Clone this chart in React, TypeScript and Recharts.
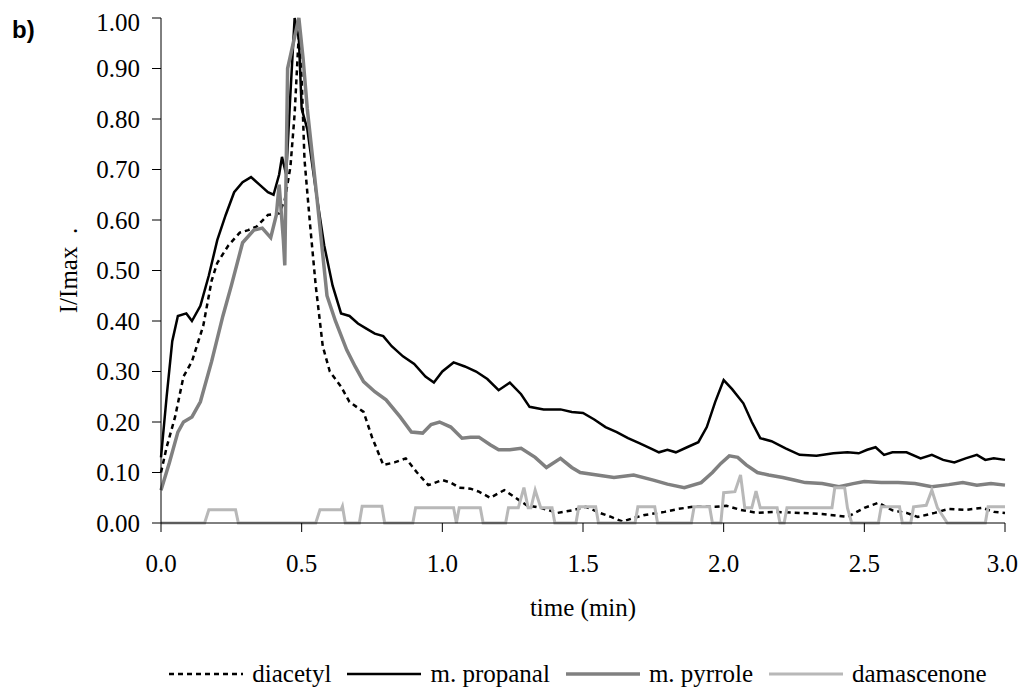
import { Customized, Legend, Line, LineChart, XAxis, YAxis } from 'recharts'

type Pt = [number, number]

const timeTicks = [0, 0.5, 1, 1.5, 2, 2.5, 3]
const intensityTicks = [0, 0.1, 0.2, 0.3, 0.4, 0.5, 0.6, 0.7, 0.8, 0.9, 1]

// [time (min), I/Imax]
const diacetyl: Pt[] = [
  [0, 0.1], [0.02, 0.15], [0.05, 0.21], [0.08, 0.29], [0.11, 0.32], [0.15, 0.39], [0.18, 0.48],
  [0.2, 0.515], [0.24, 0.55], [0.28, 0.575], [0.31, 0.58], [0.34, 0.587], [0.38, 0.61], [0.42, 0.613],
  [0.44, 0.64], [0.46, 0.705], [0.475, 0.81], [0.49, 0.97], [0.5, 0.88], [0.51, 0.72], [0.53, 0.59],
  [0.55, 0.47], [0.575, 0.35], [0.6, 0.3], [0.64, 0.27], [0.67, 0.24], [0.72, 0.22], [0.75, 0.17],
  [0.79, 0.115], [0.83, 0.12], [0.87, 0.128], [0.91, 0.1], [0.95, 0.075], [1.0, 0.085], [1.03, 0.08],
  [1.06, 0.07], [1.1, 0.068], [1.13, 0.062], [1.17, 0.05], [1.22, 0.065], [1.26, 0.05], [1.3, 0.035],
  [1.35, 0.03], [1.41, 0.02], [1.46, 0.025], [1.51, 0.032], [1.56, 0.02], [1.6, 0.012], [1.64, 0.003],
  [1.68, 0.01], [1.72, 0.016], [1.79, 0.022], [1.84, 0.028], [1.89, 0.032], [1.97, 0.032], [2.01, 0.034],
  [2.06, 0.026], [2.12, 0.02], [2.18, 0.022], [2.27, 0.02], [2.35, 0.018], [2.44, 0.012], [2.5, 0.03],
  [2.55, 0.04], [2.6, 0.025], [2.65, 0.02], [2.69, 0.012], [2.75, 0.02], [2.8, 0.028], [2.86, 0.026],
  [2.92, 0.03], [2.96, 0.022], [3.0, 0.02],
]

const propanal: Pt[] = [
  [0, 0.13], [0.02, 0.25], [0.04, 0.36], [0.06, 0.41], [0.09, 0.415], [0.11, 0.4], [0.14, 0.43],
  [0.17, 0.49], [0.2, 0.56], [0.23, 0.61], [0.26, 0.655], [0.29, 0.675], [0.32, 0.685], [0.35, 0.67],
  [0.38, 0.655], [0.4, 0.65], [0.42, 0.69], [0.43, 0.725], [0.445, 0.69], [0.46, 0.85], [0.475, 1.0],
  [0.49, 0.96], [0.5, 0.82], [0.52, 0.78], [0.55, 0.66], [0.58, 0.55], [0.61, 0.47], [0.64, 0.415],
  [0.67, 0.41], [0.7, 0.395], [0.73, 0.385], [0.76, 0.375], [0.79, 0.37], [0.82, 0.35], [0.86, 0.33],
  [0.9, 0.315], [0.94, 0.29], [0.97, 0.278], [1.0, 0.3], [1.04, 0.318], [1.08, 0.31], [1.12, 0.3],
  [1.16, 0.285], [1.2, 0.263], [1.24, 0.278], [1.28, 0.255], [1.31, 0.23], [1.36, 0.225], [1.42, 0.225],
  [1.46, 0.22], [1.5, 0.218], [1.54, 0.205], [1.58, 0.19], [1.62, 0.18], [1.66, 0.168], [1.7, 0.158],
  [1.74, 0.148], [1.77, 0.14], [1.8, 0.145], [1.83, 0.14], [1.87, 0.15], [1.91, 0.16], [1.94, 0.19],
  [1.97, 0.24], [2.0, 0.283], [2.03, 0.265], [2.07, 0.237], [2.1, 0.2], [2.13, 0.168], [2.17, 0.162],
  [2.22, 0.148], [2.27, 0.135], [2.33, 0.133], [2.39, 0.138], [2.44, 0.14], [2.48, 0.138], [2.51, 0.145],
  [2.54, 0.15], [2.57, 0.135], [2.6, 0.14], [2.65, 0.14], [2.7, 0.128], [2.74, 0.135], [2.78, 0.125],
  [2.82, 0.12], [2.86, 0.128], [2.9, 0.135], [2.93, 0.125], [2.96, 0.128], [3.0, 0.125],
]

const pyrrole: Pt[] = [
  [0, 0.065], [0.03, 0.12], [0.06, 0.18], [0.08, 0.2], [0.11, 0.21], [0.14, 0.24], [0.18, 0.32],
  [0.22, 0.41], [0.25, 0.47], [0.29, 0.555], [0.33, 0.58], [0.36, 0.584], [0.39, 0.565], [0.41, 0.61],
  [0.42, 0.67], [0.435, 0.56], [0.44, 0.51], [0.45, 0.9], [0.47, 0.95], [0.49, 1.0], [0.505, 0.92],
  [0.52, 0.82], [0.555, 0.64], [0.59, 0.45], [0.62, 0.4], [0.66, 0.343], [0.69, 0.31], [0.72, 0.28],
  [0.76, 0.26], [0.8, 0.244], [0.85, 0.21], [0.89, 0.18], [0.93, 0.178], [0.96, 0.195], [0.99, 0.2],
  [1.03, 0.19], [1.07, 0.168], [1.1, 0.17], [1.13, 0.17], [1.17, 0.155], [1.2, 0.145], [1.24, 0.145],
  [1.28, 0.148], [1.33, 0.13], [1.37, 0.11], [1.42, 0.128], [1.46, 0.11], [1.49, 0.1], [1.55, 0.095],
  [1.61, 0.09], [1.68, 0.095], [1.75, 0.085], [1.8, 0.077], [1.86, 0.07], [1.92, 0.08], [1.96, 0.1],
  [1.99, 0.118], [2.02, 0.133], [2.05, 0.13], [2.08, 0.115], [2.12, 0.1], [2.16, 0.095], [2.21, 0.09],
  [2.25, 0.085], [2.29, 0.08], [2.35, 0.078], [2.41, 0.072], [2.46, 0.078], [2.5, 0.082], [2.56, 0.08],
  [2.62, 0.08], [2.68, 0.078], [2.74, 0.072], [2.8, 0.076], [2.85, 0.08], [2.9, 0.075], [2.95, 0.078],
  [3.0, 0.075],
]

const damascenone: Pt[] = [
  [0, 0], [0.155, 0], [0.17, 0.026], [0.265, 0.026], [0.275, 0], [0.55, 0], [0.565, 0.026], [0.64, 0.026],
  [0.645, 0.033], [0.655, 0], [0.705, 0], [0.715, 0.033], [0.785, 0.033], [0.795, 0], [0.895, 0],
  [0.905, 0.03], [1.04, 0.03], [1.05, 0], [1.06, 0.03], [1.135, 0.03], [1.145, 0], [1.225, 0],
  [1.235, 0.03], [1.27, 0.03], [1.29, 0.07], [1.305, 0.03], [1.315, 0.03], [1.33, 0.065], [1.35, 0.03],
  [1.39, 0.03], [1.4, 0], [1.475, 0], [1.485, 0.032], [1.545, 0.032], [1.555, 0], [1.685, 0],
  [1.695, 0.032], [1.755, 0.032], [1.765, 0], [1.885, 0], [1.895, 0.032], [1.95, 0.032], [1.96, 0],
  [1.99, 0], [2.0, 0.06], [2.04, 0.062], [2.06, 0.095], [2.075, 0.03], [2.1, 0.03], [2.115, 0.063],
  [2.13, 0.03], [2.19, 0.03], [2.2, 0], [2.215, 0], [2.225, 0.03], [2.385, 0.03], [2.395, 0.07],
  [2.43, 0.07], [2.44, 0.03], [2.455, 0], [2.55, 0], [2.56, 0.032], [2.625, 0.032], [2.635, 0],
  [2.665, 0], [2.675, 0.032], [2.72, 0.035], [2.74, 0.065], [2.76, 0.03], [2.795, 0], [2.93, 0],
  [2.94, 0.032], [3.0, 0.032],
]

const toRows = (pts: Pt[]) => pts.map(([t, v]) => ({ t, v }))

const series = [
  { name: 'diacetyl', pts: diacetyl, stroke: '#000', width: 2.5, dash: '5 4' },
  { name: 'm. propanal', pts: propanal, stroke: '#000', width: 2.5, dash: undefined },
  { name: 'm. pyrrole', pts: pyrrole, stroke: '#808080', width: 3.5, dash: undefined },
  { name: 'damascenone', pts: damascenone, stroke: '#b8b8b8', width: 3, dash: undefined },
]

const FONT = 'Liberation Serif, Tinos, DejaVu Serif, serif'

function LegendBox() {
  return (
    <div style={{ display: 'flex', justifyContent: 'center', alignItems: 'center', fontFamily: FONT, fontSize: 25, color: '#000', height: 30 }}>
      {series.map((s) => (
        <div key={s.name} style={{ display: 'flex', alignItems: 'center', marginRight: 16 }}>
          <svg width={74} height={10} style={{ marginRight: 9 }}>
            <line x1={0} y1={5} x2={74} y2={5} stroke={s.stroke} strokeWidth={s.width} strokeDasharray={s.dash} />
          </svg>
          <span>{s.name}</span>
        </div>
      ))}
    </div>
  )
}

export default function App() {
  return (
    <LineChart width={1010} height={685} margin={{ top: 10, right: 13, bottom: 4, left: 0 }}>
      <XAxis
        type="number"
        dataKey="t"
        domain={[0, 3]}
        ticks={timeTicks}
        tickFormatter={(v: number) => v.toFixed(1)}
        tickSize={9}
        tickMargin={22}
        height={136}
        stroke="#000"
        tick={{ fill: '#000', fontSize: 25, fontFamily: FONT }}
        label={{ value: 'time (min)', position: 'insideTop', offset: 75, fill: '#000', fontSize: 25, fontFamily: FONT }}
      />
      <YAxis
        type="number"
        domain={[0, 1]}
        ticks={intensityTicks}
        tickFormatter={(v: number) => v.toFixed(2)}
        tickSize={9}
        tickMargin={12}
        width={153}
        stroke="#000"
        tick={{ fill: '#000', fontSize: 25, fontFamily: FONT }}
        label={{
          value: 'I/Imax\u00a0\u00a0.',
          angle: -90,
          position: 'insideLeft',
          offset: 60,
          fill: '#000',
          fontSize: 25,
          fontFamily: FONT,
          style: { textAnchor: 'middle' },
        }}
      />
      {series.map((s) => (
        <Line
          key={s.name}
          data={toRows(s.pts)}
          dataKey="v"
          name={s.name}
          type="linear"
          stroke={s.stroke}
          strokeWidth={s.width}
          strokeDasharray={s.dash}
          dot={false}
          activeDot={false}
          isAnimationActive={false}
        />
      ))}
      <Legend
        verticalAlign="bottom"
        height={30}
        wrapperStyle={{ left: 150, width: 856 }}
        content={() => <LegendBox />}
      />
      <Customized
        component={() => (
          <text x={4} y={30} fontFamily="Liberation Sans, Arial, sans-serif" fontWeight="bold" fontSize={24} fill="#000">
            b)
          </text>
        )}
      />
    </LineChart>
  )
}
